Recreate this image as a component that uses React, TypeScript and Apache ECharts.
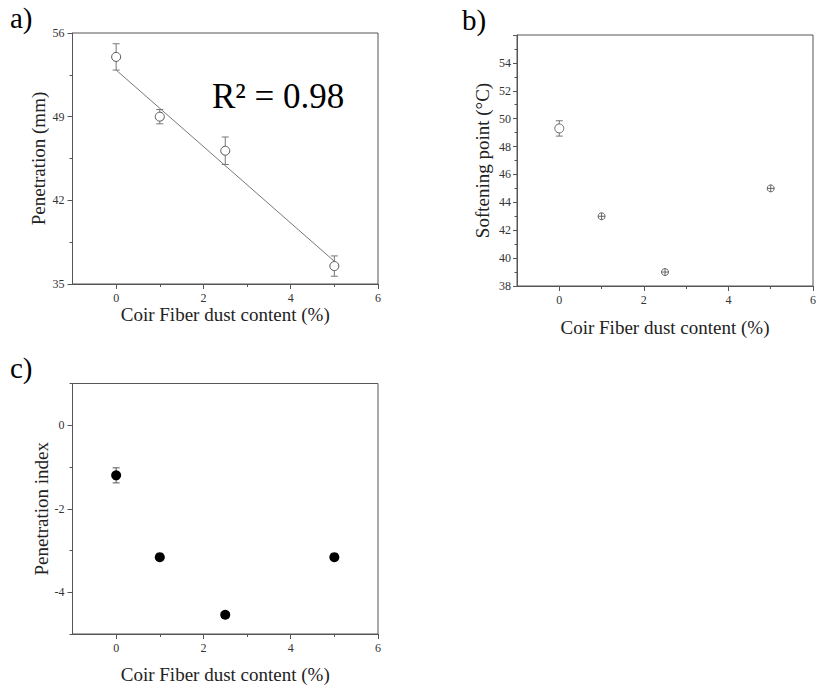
import React, { useEffect, useRef } from "react";
import * as echarts from "echarts";

// ---- data ----
const fiberContent = [0, 1, 2.5, 5];
const penetration = [54.0, 49.0, 46.15, 36.5];
const penetrationErr = [1.1, 0.6, 1.15, 0.85];
const fitX = [0, 5];
const fitY = [52.9, 36.9];
const softening = [49.3, 43.0, 39.0, 45.0];
const softeningErr = [0.55, 0, 0, 0];
const penIndex = [-1.2, -3.16, -4.54, -3.16];
const penIndexErr = [0.18, 0, 0, 0];
const xMajorTicks = [0, 2, 4, 6];
const xMinorTicks = [1, 3, 5];
const piMajorTicks = [-4, -2, 0];
const piMinorTicks = [-5, -3, -1, 1];

const FONT = "Liberation Serif, Times New Roman, serif";
const AXIS_COLOR = "#555";
const LABEL_COLOR = "#333";
const crossCircle = "path://M8,0A8,8,0,1,1,7.99,0ZM0,8H16M8,0V16";

function errSeries(xIdx: number, yIdx: number, ys: number[], errs: number[], color: string) {
  return {
    type: "custom",
    xAxisIndex: xIdx,
    yAxisIndex: yIdx,
    silent: true,
    z: 1,
    data: fiberContent.map((x, i) => [x, ys[i] - errs[i], ys[i] + errs[i]]),
    renderItem: (params: any, api: any) => {
      const lo = api.coord([api.value(0), api.value(1)]);
      const hi = api.coord([api.value(0), api.value(2)]);
      if (Math.abs(hi[1] - lo[1]) < 0.5) return { type: "group", children: [] };
      const w = 3.5;
      const st = { stroke: color, lineWidth: 1 };
      return {
        type: "group",
        children: [
          { type: "line", shape: { x1: lo[0], y1: lo[1], x2: hi[0], y2: hi[1] }, style: st },
          { type: "line", shape: { x1: lo[0] - w, y1: lo[1], x2: lo[0] + w, y2: lo[1] }, style: st },
          { type: "line", shape: { x1: hi[0] - w, y1: hi[1], x2: hi[0] + w, y2: hi[1] }, style: st },
        ],
      };
    },
  };
}

const nameStyle = { fontFamily: FONT, fontSize: 19, color: "#222" };
const tickLabelStyle = { fontFamily: FONT, fontSize: 12, color: LABEL_COLOR };

function xMain(grid: number, nameGap: number) {
  return {
    type: "value",
    gridIndex: grid,
    position: "bottom",
    min: -1,
    max: 6,
    name: "Coir Fiber dust content (%)",
    nameLocation: "middle",
    nameGap,
    nameTextStyle: nameStyle,
    axisLine: { show: true, onZero: false, lineStyle: { color: AXIS_COLOR, width: 1 } },
    axisTick: { show: true, length: 5, customValues: xMajorTicks, lineStyle: { color: AXIS_COLOR } },
    axisLabel: { customValues: xMajorTicks, ...tickLabelStyle, margin: 8 },
    splitLine: { show: false },
  };
}

function xMinor(grid: number) {
  return {
    type: "value",
    gridIndex: grid,
    position: "bottom",
    min: -1,
    max: 6,
    axisLine: { show: false, onZero: false },
    axisTick: { show: true, length: 3, customValues: xMinorTicks, lineStyle: { color: AXIS_COLOR } },
    axisLabel: { show: false, customValues: xMinorTicks },
    splitLine: { show: false },
  };
}

export default function App() {
  const ref = useRef<HTMLDivElement>(null);
  useEffect(() => {
    if (!ref.current) return;
    const chart = echarts.init(ref.current, undefined, { renderer: "svg" });
    const gridStyle = { show: true, borderColor: AXIS_COLOR, borderWidth: 1, backgroundColor: "transparent" };
    chart.setOption({
      animation: false,
      backgroundColor: "#fff",
      textStyle: { fontFamily: FONT },
      grid: [
        { left: 72.5, top: 33, width: 305.5, height: 251, ...gridStyle },
        { left: 517, top: 35, width: 306, height: 251, ...gridStyle },
        { left: 72.5, top: 383.5, width: 305.5, height: 250.5, ...gridStyle },
      ],
      xAxis: [xMain(0, 18), xMinor(0), xMain(1, 32), xMinor(1), xMain(2, 31), xMinor(2)],
      yAxis: [
        {
          type: "value",
          gridIndex: 0,
          position: "left",
          min: 35,
          max: 56,
          interval: 7,
          name: "Penetration (mm)",
          nameLocation: "middle",
          nameGap: 25,
          nameTextStyle: nameStyle,
          axisLine: { show: true, onZero: false, lineStyle: { color: AXIS_COLOR } },
          axisTick: { show: true, length: 5, lineStyle: { color: AXIS_COLOR } },
          minorTick: { show: true, splitNumber: 2, length: 3, lineStyle: { color: AXIS_COLOR } },
          axisLabel: { ...tickLabelStyle, margin: 8 },
          splitLine: { show: false },
        },
        {
          type: "value",
          gridIndex: 1,
          position: "left",
          min: 38,
          max: 56,
          interval: 2,
          name: "Softening point (°C)",
          nameLocation: "middle",
          nameGap: 25,
          nameTextStyle: nameStyle,
          axisLine: { show: true, onZero: false, lineStyle: { color: AXIS_COLOR } },
          axisTick: { show: true, length: 4, lineStyle: { color: AXIS_COLOR } },
          minorTick: { show: true, splitNumber: 2, length: 2.5, lineStyle: { color: AXIS_COLOR } },
          axisLabel: {
            ...tickLabelStyle,
            margin: 6,
            formatter: (v: number) => (v === 56 ? "" : String(v)),
          },
          splitLine: { show: false },
        },
        {
          type: "value",
          gridIndex: 2,
          position: "left",
          min: -5,
          max: 1,
          name: "Penetration index",
          nameLocation: "middle",
          nameGap: 22,
          nameTextStyle: nameStyle,
          axisLine: { show: true, onZero: false, lineStyle: { color: AXIS_COLOR } },
          axisTick: { show: true, length: 5, customValues: piMajorTicks, lineStyle: { color: AXIS_COLOR } },
          axisLabel: { customValues: piMajorTicks, ...tickLabelStyle, margin: 8 },
          splitLine: { show: false },
        },
        {
          type: "value",
          gridIndex: 2,
          position: "left",
          offset: 0,
          min: -5,
          max: 1,
          axisLine: { show: false, onZero: false },
          axisTick: { show: true, length: 3, customValues: piMinorTicks, lineStyle: { color: AXIS_COLOR } },
          axisLabel: { show: false, customValues: piMinorTicks },
          splitLine: { show: false },
        },
      ],
      series: [
        errSeries(0, 0, penetration, penetrationErr, "#777"),
        {
          type: "line",
          xAxisIndex: 0,
          yAxisIndex: 0,
          data: fitX.map((x, i) => [x, fitY[i]]),
          showSymbol: false,
          symbol: "none",
          lineStyle: { color: "#777", width: 1 },
          z: 2,
          silent: true,
        },
        {
          type: "scatter",
          xAxisIndex: 0,
          yAxisIndex: 0,
          data: fiberContent.map((x, i) => [x, penetration[i]]),
          symbol: "circle",
          symbolSize: 9,
          itemStyle: { color: "#fff", borderColor: "#555", borderWidth: 1, opacity: 1 },
          z: 3,
        },
        errSeries(2, 1, softening, softeningErr, "#777"),
        {
          type: "scatter",
          xAxisIndex: 2,
          yAxisIndex: 1,
          data: fiberContent.map((x, i) => [x, softening[i]]),
          symbol: (v: any, p: any) => (p.dataIndex === 0 ? "circle" : crossCircle),
          symbolSize: (v: any, p: any) => (p.dataIndex === 0 ? 9 : 7),
          itemStyle: { color: "#fff", borderColor: "#666", borderWidth: 1, opacity: 1 },
          z: 3,
        },
        errSeries(4, 2, penIndex, penIndexErr, "#555"),
        {
          type: "scatter",
          xAxisIndex: 4,
          yAxisIndex: 2,
          data: fiberContent.map((x, i) => [x, penIndex[i]]),
          symbol: "circle",
          symbolSize: 10,
          itemStyle: { color: "#000", opacity: 1 },
          z: 3,
        },
      ],
      graphic: [
        { type: "text", left: 10, top: 3, style: { text: "a)", fontFamily: FONT, fontSize: 29, fill: "#000" } },
        { type: "text", left: 462, top: 5, style: { text: "b)", fontFamily: FONT, fontSize: 29, fill: "#000" } },
        { type: "text", left: 10, top: 353, style: { text: "c)", fontFamily: FONT, fontSize: 29, fill: "#000" } },
        {
          type: "text",
          x: 212,
          y: 96,
          style: { text: "R² = 0.98", fontFamily: FONT, fontSize: 35, fill: "#000", verticalAlign: "middle" },
        },
      ],
    });
    return () => chart.dispose();
  }, []);
  return <div ref={ref} style={{ position: "absolute", left: 0, top: 0, width: 819, height: 689 }} />;
}
